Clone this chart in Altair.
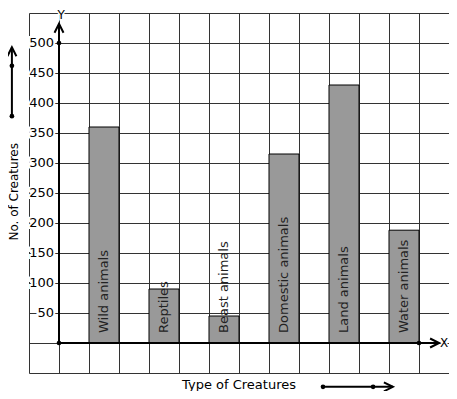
import altair as alt
import pandas as pd

# ---- data ----
categories = ["Wild animals", "Reptiles", "Beast animals", "Domestic animals", "Land animals", "Water animals"]
counts = [360, 90, 45, 315, 430, 188]
tick_values = [50, 100, 150, 200, 250, 300, 350, 400, 450, 500]

x_title = "Type of Creatures"
y_title = "No. of Creatures"

FONT = "DejaVu Sans"
GRID = "#333333"

bars = pd.DataFrame({"category": categories, "count": counts, "slot": list(range(len(categories)))})
ticks = pd.DataFrame({"v": tick_values})

xs = alt.Scale(domain=[-1, 13], nice=False, zero=False)
ys = alt.Scale(domain=[-50, 550], nice=False, zero=False)

x_grid_vals = list(range(-1, 14))
y_grid_vals = list(range(-50, 551, 50))

x_axis = alt.Axis(values=x_grid_vals, grid=True, labels=False, ticks=False, domain=False, title=None,
                  gridColor=GRID, gridOpacity=1, gridWidth=1)
y_axis = alt.Axis(values=y_grid_vals, grid=True, labels=False, ticks=False, domain=False, title=None,
                  gridColor=GRID, gridOpacity=1, gridWidth=1)


def X(f):
    return alt.X(f, scale=xs, axis=x_axis)


def Y(f):
    return alt.Y(f, scale=ys, axis=y_axis)


base_bars = alt.Chart(bars).transform_calculate(
    x0="2*datum.slot+1", x1="2*datum.slot+2", xc="2*datum.slot+1.5", zero="0"
)

rects = base_bars.mark_rect(fill="#999999", stroke="black", strokeWidth=1).encode(
    x=X("x0:Q"), x2="x1:Q", y=Y("zero:Q"), y2="count:Q",
)

bar_text = base_bars.mark_text(angle=270, align="left", baseline="middle", dx=10,
                               font=FONT, fontSize=13, color="#222222").encode(
    x=X("xc:Q"), y=Y("zero:Q"), text="category:N"
)

# axis lines
axes_df = pd.DataFrame({"x": [0, 0], "x2": [0, 12.67], "y": [0, 0], "y2": [532, 0]})
axis_lines = alt.Chart(axes_df).mark_rule(color="black", strokeWidth=2).encode(
    x=X("x:Q"), x2="x2:Q", y=Y("y:Q"), y2="y2:Q"
)

# side arrows (decorative)
side_df = pd.DataFrame({"x": [-1.57, 8.8], "x2": [-1.57, 11.13], "y": [378, -73], "y2": [493, -73]})
side_lines = alt.Chart(side_df).mark_rule(color="black", strokeWidth=2).encode(
    x=X("x:Q"), x2="x2:Q", y=Y("y:Q"), y2="y2:Q"
)

up_df = pd.DataFrame({"x": [0, -1.57], "y": [532, 493]})
up_heads = alt.Chart(up_df).mark_point(shape="M-0.5,1L0,0L0.5,1", size=324, filled=False,
                                       stroke="black", strokeWidth=2, opacity=1).encode(
    x=X("x:Q"), y=Y("y:Q")
)
right_df = pd.DataFrame({"x": [12.67, 11.13], "y": [0, -73]})
right_heads = alt.Chart(right_df).mark_point(shape="M-1,-0.5L0,0L-1,0.5", size=324, filled=False,
                                             stroke="black", strokeWidth=2, opacity=1).encode(
    x=X("x:Q"), y=Y("y:Q")
)

dots_df = pd.DataFrame({"x": [0, 0, 12, -1.57, -1.57, 8.8, 10.47], "y": [0, 500, 0, 378, 462, -73, -73]})
dots = alt.Chart(dots_df).mark_point(shape="circle", size=22, filled=True, color="black", opacity=1).encode(
    x=X("x:Q"), y=Y("y:Q")
)

# tick labels with white halo to mask grid
tick_halo = alt.Chart(ticks).mark_text(align="right", baseline="middle", dx=-5, font=FONT, fontSize=13,
                                       stroke="white", strokeWidth=4, color="white").encode(
    x=alt.value(30), y=Y("v:Q"), text="v:Q"
)
tick_text = alt.Chart(ticks).mark_text(align="right", baseline="middle", dx=-5, font=FONT, fontSize=13,
                                       color="black").encode(
    x=alt.value(30), y=Y("v:Q"), text="v:Q"
)

lab_df = pd.DataFrame({"label": ["X", "Y"], "x": [12.84, 0.07], "y": [0, 547]})
lab_halo = alt.Chart(lab_df).mark_text(align="center", baseline="middle", font=FONT, fontSize=12,
                                       stroke="white", strokeWidth=3, color="white").encode(
    x=X("x:Q"), y=Y("y:Q"), text="label:N"
)
lab_text = alt.Chart(lab_df).mark_text(align="center", baseline="middle", font=FONT, fontSize=12,
                                       color="black").encode(
    x=X("x:Q"), y=Y("y:Q"), text="label:N"
)

title_df = pd.DataFrame({"t": [x_title], "x": [6.0], "y": [-70]})
xt = alt.Chart(title_df).mark_text(align="center", baseline="middle", font=FONT, fontSize=13,
                                   color="black").encode(
    x=X("x:Q"), y=Y("y:Q"), text="t:N"
)
ytitle_df = pd.DataFrame({"t": [y_title], "x": [-1.51], "y": [252]})
yt = alt.Chart(ytitle_df).mark_text(align="center", baseline="middle", angle=270, font=FONT, fontSize=12,
                                    color="black").encode(
    x=X("x:Q"), y=Y("y:Q"), text="t:N"
)

chart = alt.layer(
    rects, bar_text, axis_lines, side_lines, up_heads, right_heads, dots,
    tick_halo, tick_text, lab_halo, lab_text, xt, yt
).properties(
    width=420, height=360,
    autosize=alt.AutoSizeParams(type="none"),
    padding={"left": 21, "top": 5, "right": 0, "bottom": 18},
).configure_view(stroke=None).configure(background="white")

chart.save("out.html", embed_options={"renderer": "svg", "actions": False})
